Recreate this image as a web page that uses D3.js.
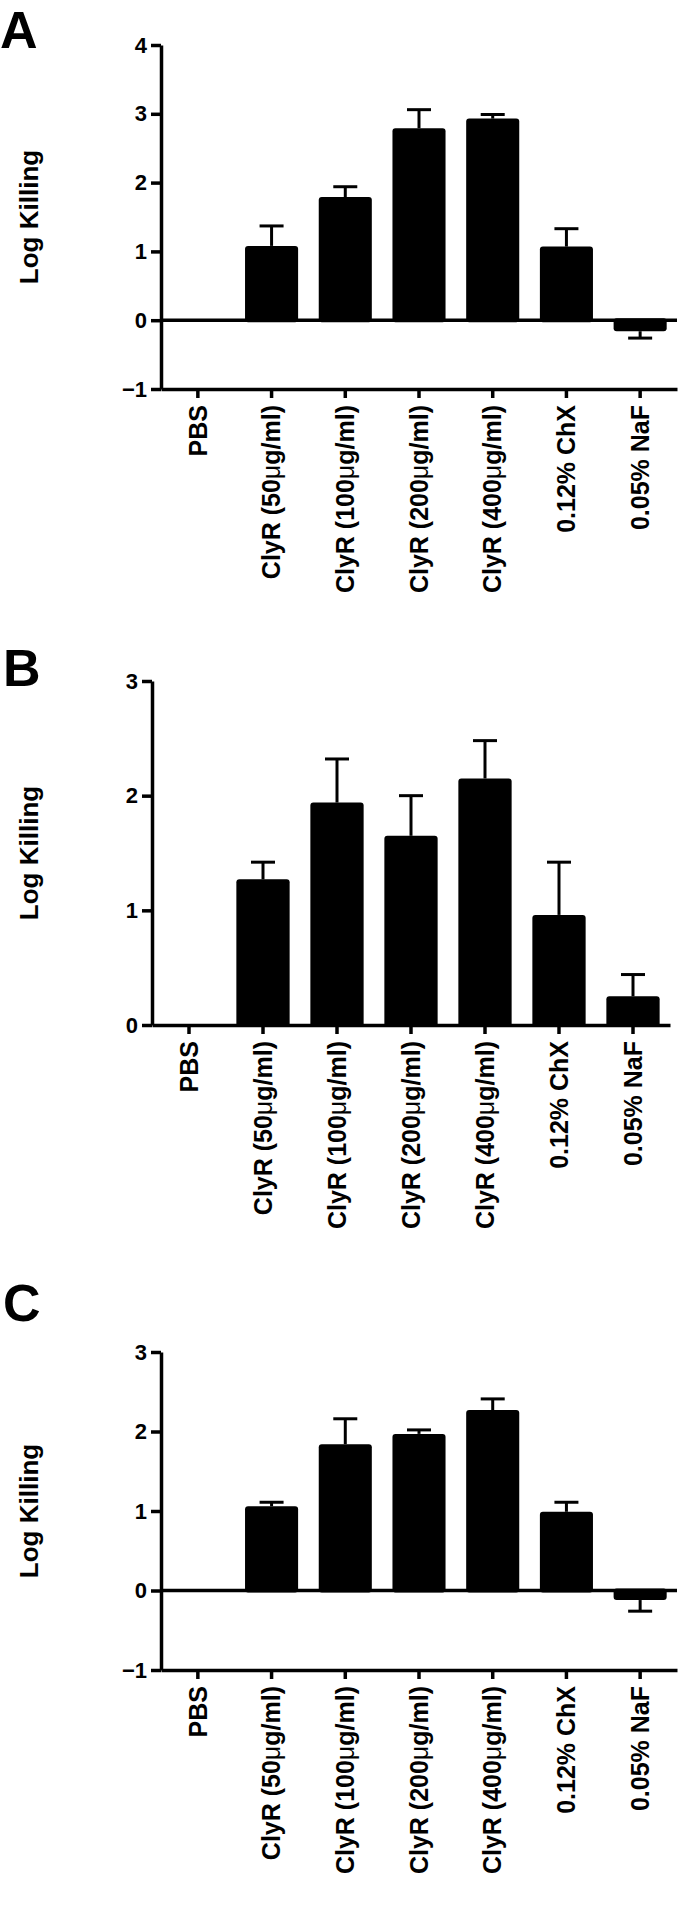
<!DOCTYPE html>
<html>
<head>
<meta charset="utf-8">
<script src="https://cdn.jsdelivr.net/npm/d3@7"></script>
<style>
body { margin: 0; background: #fff; }
text { font-family: "Liberation Sans", Arial, sans-serif; font-weight: bold; fill: #000; }
</style>
</head>
<body>
<script>
const svgWidth = 680
const svgHeight = 1907

const groups = ["PBS", "ClyR (50μg/ml)", "ClyR (100μg/ml)", "ClyR (200μg/ml)", "ClyR (400μg/ml)", "0.12% ChX", "0.05% NaF"]

// log killing, mean and SEM (upper bar only)
const killingA = [0, 1.08, 1.79, 2.79, 2.93, 1.07, -0.16]
const semA = [0, 0.29, 0.15, 0.27, 0.06, 0.26, 0.10]
const ticksA = [-1, 0, 1, 2, 3, 4]

const killingB = [0, 1.27, 1.94, 1.65, 2.15, 0.96, 0.25]
const semB = [0, 0.15, 0.38, 0.35, 0.33, 0.46, 0.19]
const ticksB = [0, 1, 2, 3]

const killingC = [0, 1.06, 1.84, 1.97, 2.27, 0.99, -0.12]
const semC = [0, 0.05, 0.32, 0.05, 0.14, 0.12, 0.14]
const ticksC = [-1, 0, 1, 2, 3]

const panels = [
    { letter: "A", values: killingA, sem: semA, ticks: ticksA, left: 161, right: 677, top: 45, bottom: 389, letterX: 0, letterY: 48 },
    { letter: "B", values: killingB, sem: semB, ticks: ticksB, left: 152, right: 670, top: 681, bottom: 1025, letterX: 3, letterY: 686 },
    { letter: "C", values: killingC, sem: semC, ticks: ticksC, left: 161, right: 677, top: 1352, bottom: 1670, letterX: 3, letterY: 1321 }
]

const svg = d3.select("body").append("svg")
    .attr("width", svgWidth)
    .attr("height", svgHeight)

function drawPanel(p) {
    const g = svg.append("g")

    const x = d3.scaleBand()
        .domain(groups)
        .range([p.left, p.right])
        .paddingInner(0.28)
        .paddingOuter(0.14)

    const y = d3.scaleLinear()
        .domain(d3.extent(p.ticks))
        .range([p.bottom, p.top])

    const rows = groups.map((k, i) => ({ k: k, v: p.values[i], e: p.sem[i] }))
        .filter(d => d.v !== 0)

    // bars
    g.selectAll("rect.bar")
        .data(rows)
        .join("rect")
        .attr("class", "bar")
        .attr("x", d => x(d.k))
        .attr("width", x.bandwidth())
        .attr("y", d => d.v > 0 ? y(d.v) : y(0) - 2)
        .attr("height", d => Math.abs(y(d.v) - y(0)) + 2)
        .attr("rx", 3)
        .attr("fill", "#000")

    // error bars, one-sided
    const tip = d => d.v > 0 ? y(d.v + d.e) : y(d.v - d.e)
    g.selectAll("line.stem")
        .data(rows)
        .join("line")
        .attr("x1", d => x(d.k) + x.bandwidth() / 2)
        .attr("x2", d => x(d.k) + x.bandwidth() / 2)
        .attr("y1", d => y(d.v))
        .attr("y2", tip)
        .attr("stroke", "#000")
        .attr("stroke-width", 3)
    g.selectAll("line.cap")
        .data(rows)
        .join("line")
        .attr("x1", d => x(d.k) + x.bandwidth() / 2 - 12)
        .attr("x2", d => x(d.k) + x.bandwidth() / 2 + 12)
        .attr("y1", tip)
        .attr("y2", tip)
        .attr("stroke", "#000")
        .attr("stroke-width", 3)

    // zero line when the axis goes below zero
    if (p.ticks[0] < 0) {
        g.append("line")
            .attr("x1", p.left)
            .attr("x2", p.right)
            .attr("y1", y(0))
            .attr("y2", y(0))
            .attr("stroke", "#000")
            .attr("stroke-width", 3.5)
    }

    const yAxis = d3.axisLeft(y)
        .tickValues(p.ticks)
        .tickFormat(d3.format("d"))
        .tickSize(10)
        .tickSizeOuter(0)
        .tickPadding(4)

    const yG = g.append("g")
        .attr("transform", `translate(${p.left}, 0)`)
        .call(yAxis)
    yG.attr("font-family", null).attr("font-size", 22)
    yG.selectAll("path, line").attr("stroke-width", 3.5)

    const xAxis = d3.axisBottom(x)
        .tickSize(9)
        .tickSizeOuter(0)

    const xG = g.append("g")
        .attr("transform", `translate(0, ${p.bottom})`)
        .call(xAxis)
    xG.attr("font-family", null).attr("font-size", 25)
    xG.selectAll("path, line").attr("stroke-width", 3.5)
    xG.selectAll(".tick text").each(function (d) {
        const t = d3.select(this)
            .text(null)
            .attr("transform", "rotate(-90)")
            .attr("text-anchor", "end")
            .attr("x", -16)
            .attr("y", 0)
            .attr("dy", "0.35em")
        const parts = d.split("μ")
        parts.forEach((s, i) => {
            if (i > 0) t.append("tspan").attr("font-weight", "normal").text("μ")
            t.append("tspan").text(s)
        })
    })

    g.append("text")
        .attr("transform", `translate(38, ${(p.top + p.bottom) / 2}) rotate(-90)`)
        .attr("text-anchor", "middle")
        .attr("font-size", 26)
        .text("Log Killing")

    g.append("text")
        .attr("x", p.letterX)
        .attr("y", p.letterY)
        .attr("font-size", 52)
        .text(p.letter)
}

panels.forEach(drawPanel)
</script>
</body>
</html>
